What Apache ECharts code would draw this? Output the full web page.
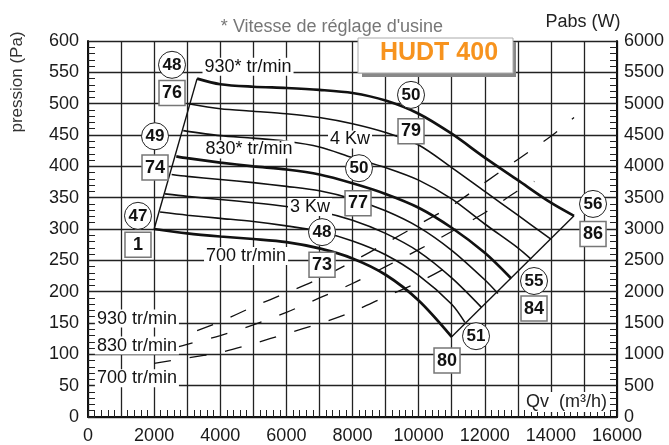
<!DOCTYPE html>
<html><head><meta charset="utf-8">
<script src="https://cdn.jsdelivr.net/npm/echarts@6/dist/echarts.min.js"></script>
<style>html,body{margin:0;padding:0;background:#fff}#c{width:669px;height:445px}</style>
</head><body><div id="c"></div>
<script>
const FONT = '"Liberation Sans", Arial, sans-serif';
// Pressure curves: [Qv (m3/h), pression (Pa)]
const p930 = [[3300,540],[4000,531],[5000,527],[6000,525],[7000,522],[8000,517],[9000,505],[10000,484],[11000,452],[12000,414],[13000,378],[14000,342],[14700,321]];
const pC2 = [[3030,500],[4000,492],[5000,488],[6000,484],[7000,478],[8000,468],[9000,454],[10000,434],[11000,398],[12000,360],[13000,322],[14000,284]];
const pC3 = [[2880,457],[4000,449],[5000,445],[6000,440],[7000,431],[8000,414],[9000,398],[10000,378],[11000,348],[12000,308],[13000,270],[13400,252]];
const p830 = [[2670,416],[3000,413],[4000,406],[5000,400],[6000,395],[7000,387],[8000,373],[9000,356],[10000,334],[11000,302],[12000,262],[12800,221]];
const pC5 = [[2530,387],[3000,384],[4000,379],[5000,374],[6000,368],[7000,361],[8000,348],[9000,329],[10000,303],[11000,266],[12000,219],[12400,197]];
const pC6 = [[2330,356],[3000,352],[4000,347],[5000,342],[6000,336],[7000,328],[8000,314],[9000,293],[10000,264],[11000,222],[11900,175]];
const pC7 = [[2180,327],[3000,322],[4000,317],[5000,312],[6000,305],[7000,296],[8000,281],[9000,259],[10000,226],[11000,180],[11400,151]];
const p700 = [[2000,300],[3000,293],[4000,288],[5000,284],[6000,279],[7000,269],[8000,253],[9000,227],[10000,186],[11000,128]];
// Operating-range boundaries
const leftEdge = [[2000,300],[3300,540]];
const rightEdge = [[11000,128],[14700,321]];
// Absorbed power curves: [Qv, Pabs (W)]
const w930 = [[3300,1380],[4000,1520],[5000,1760],[6000,1980],[7000,2210],[8000,2480],[9000,2770],[10000,3070],[11000,3370],[12000,3740],[13000,4110],[14000,4480],[14700,4780]];
const w830 = [[2670,1110],[3000,1160],[4000,1300],[5000,1470],[6000,1670],[7000,1900],[8000,2130],[9000,2400],[10000,2670],[11000,2960],[12000,3260],[13000,3610],[13500,3760]];
const w700 = [[2000,857],[3000,940],[4000,1030],[5000,1170],[6000,1330],[7000,1490],[8000,1680],[9000,1920],[10000,2150],[11000,2430]];
// Circled and boxed values
const circles = [[2541,562,'48'],[2027,448,'49'],[1512,321,'47'],[9770,514,'50'],[8197,397,'50'],[7078,295,'48'],[11736,129,'51'],[13490,217,'55'],[15275,340,'56']];
const boxes = [[2541,517,'76'],[2027,398,'74'],[1512,275,'1'],[9770,456,'79'],[8167,341,'77'],[7078,243,'73'],[10859,90,'80'],[13490,173,'84'],[15275,292,'86']];
// Curve captions
const captions = [[4840,559,'930* tr/min'],[4870,427,'830* tr/min'],[7925,443,'4 Kw'],[6715,335,'3 Kw'],[4780,257,'700 tr/min'],[1480,157,'930 tr/min'],[1480,114,'830 tr/min'],[1480,62,'700 tr/min']];

const chart = echarts.init(document.getElementById('c'), null, {renderer:'canvas'});
const thick = 2.7, thin = 1.6;
function pLine(data, w){ return {type:'line', data, yAxisIndex:0, smooth:0.3, showSymbol:false, symbol:'none', lineStyle:{color:'#111', width:w}, z:3, silent:true}; }
function wLine(data){ return {type:'line', data, yAxisIndex:1, smooth:0.3, showSymbol:false, symbol:'none', lineStyle:{color:'#111', width:1.3, type:[17,19]}, z:3, silent:true}; }
function straight(data){ return {type:'line', data, yAxisIndex:0, showSymbol:false, symbol:'none', lineStyle:{color:'#111', width:1.4}, z:3, silent:true}; }
const axisLab = {fontFamily:FONT, fontSize:18, color:'#1a1a1a'};
const tick = {show:true, inside:true, length:7, lineStyle:{color:'#222', width:1}};
const minor = {show:true, splitNumber:5, length:7, lineStyle:{color:'#222', width:1}};
chart.setOption({
  animation:false,
  backgroundColor:'#fff',
  grid:{left:88, right:52, top:41, bottom:26},
  xAxis:{type:'value', min:0, max:16000, interval:1000,
    axisLine:{show:true, onZero:false, lineStyle:{color:'#111', width:2}},
    axisTick:tick, minorTick:minor,
    splitLine:{show:true, lineStyle:{color:'#222', width:1.3}},
    axisLabel:Object.assign({margin:10, formatter:v => (v % 2000 === 0 ? String(v) : '')}, axisLab)},
  yAxis:[
    {type:'value', min:0, max:600, interval:50, position:'left',
      axisLine:{show:true, lineStyle:{color:'#111', width:2}},
      axisTick:tick, minorTick:minor,
      splitLine:{show:true, lineStyle:{color:'#222', width:1.3}},
      axisLabel:Object.assign({margin:9, formatter:v => String(v)}, axisLab)},
    {type:'value', min:0, max:6000, interval:500, position:'right',
      axisLine:{show:true, lineStyle:{color:'#111', width:2}},
      axisTick:tick, minorTick:minor,
      splitLine:{show:false},
      axisLabel:Object.assign({margin:7, formatter:v => String(v)}, axisLab)}
  ],
  series:[
    pLine(p930, thick), pLine(pC2, thin), pLine(pC3, thin), pLine(p830, thick),
    pLine(pC5, thin), pLine(pC6, thin), pLine(pC7, thin), pLine(p700, thick),
    straight(leftEdge), straight(rightEdge),
    wLine(w930), wLine(w830), wLine(w700),
    {type:'scatter', yAxisIndex:0, z:6, silent:true,
      data:captions.map(c => ({value:[c[0],c[1]], name:c[2]})),
      symbolSize:1, itemStyle:{color:'rgba(0,0,0,0)', opacity:1},
      label:{show:true, position:'inside', formatter:'{b}', fontFamily:FONT, fontSize:18, color:'#111', backgroundColor:'#fff', padding:[0,2]}},
    {type:'scatter', yAxisIndex:0, z:7, silent:true,
      data:circles.map(c => ({value:[c[0],c[1]], name:c[2]})),
      symbol:'circle', symbolSize:27, itemStyle:{color:'#fff', borderColor:'#222', borderWidth:1, opacity:1},
      label:{show:true, position:'inside', formatter:'{b}', fontFamily:FONT, fontSize:17, fontWeight:'bold', color:'#111'}},
    {type:'scatter', yAxisIndex:0, z:7, silent:true,
      data:boxes.map(c => ({value:[c[0],c[1]], name:c[2]})),
      symbol:'rect', symbolSize:[26,25], itemStyle:{color:'#fff', borderColor:'#777', borderWidth:1.5, opacity:1},
      label:{show:true, position:'inside', formatter:'{b}', fontFamily:FONT, fontSize:18, fontWeight:'bold', color:'#111'}}
  ],
  graphic:[
    {type:'text', x:17, y:82, rotation:Math.PI/2, z:10, style:{text:'pression (Pa)', textAlign:'center', textVerticalAlign:'middle', fontFamily:FONT, fontSize:17, fill:'#333'}},
    {type:'text', x:583, y:22, z:10, style:{text:'Pabs (W)', textAlign:'center', textVerticalAlign:'middle', fontFamily:FONT, fontSize:18, fill:'#222'}},
    {type:'text', x:332, y:27, z:10, style:{text:"* Vitesse de réglage d'usine", textAlign:'center', textVerticalAlign:'middle', fontFamily:FONT, fontSize:18, fill:'#777'}},
    {type:'rect', shape:{x:362, y:42, width:154, height:35}, z:10, style:{fill:'#888'}},
    {type:'rect', shape:{x:358, y:38, width:155, height:35}, z:11, style:{fill:'#fff', stroke:'#aaa', lineWidth:1}},
    {type:'text', x:439, y:53, z:12, style:{text:'HUDT 400', textAlign:'center', textVerticalAlign:'middle', fontFamily:FONT, fontSize:25, fontWeight:'bold', fill:'#f7931e'}},
    {type:'text', x:608, y:402, z:10, style:{text:'Qv  (m³/h)', textAlign:'right', textVerticalAlign:'middle', fontFamily:FONT, fontSize:18, fill:'#222', backgroundColor:'#fff', padding:[1,1]}}
  ]
});
</script></body></html>
